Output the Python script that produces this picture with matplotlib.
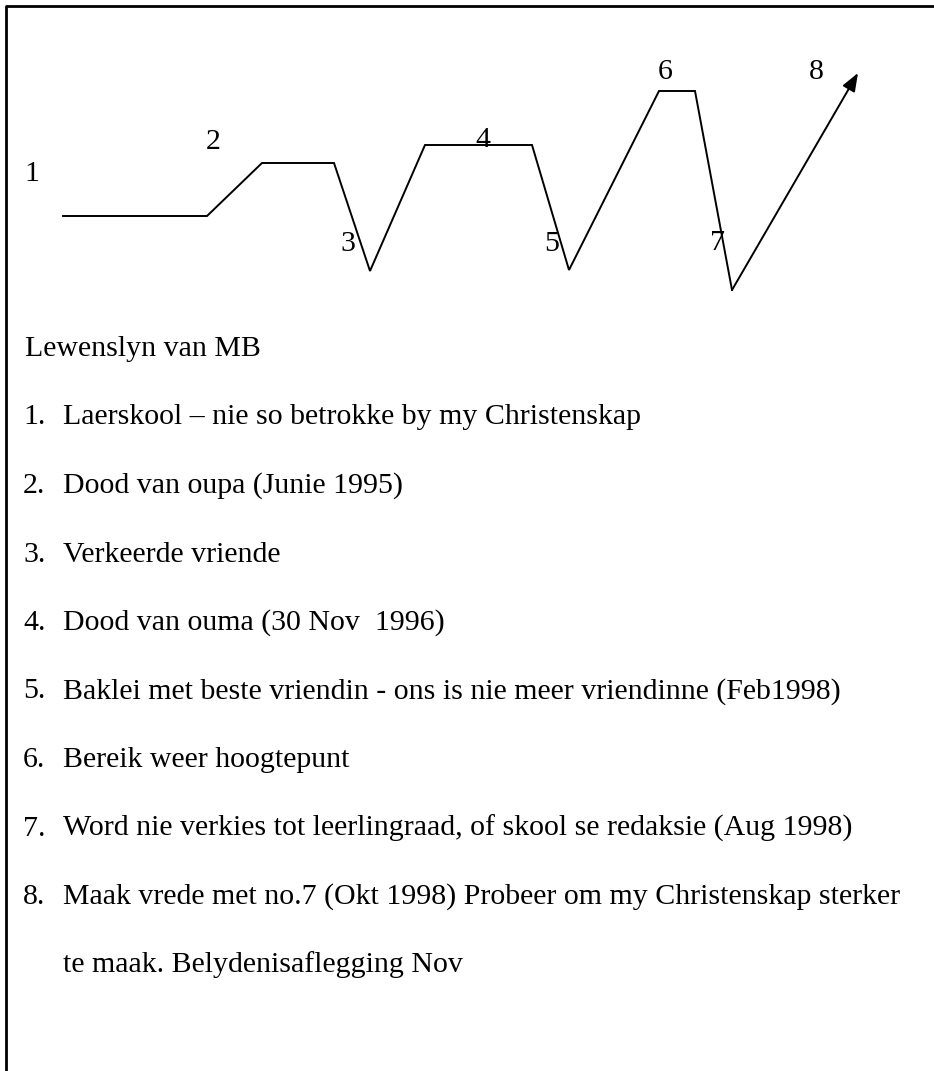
import matplotlib

matplotlib.use("Agg")
import matplotlib.pyplot as plt

W, H = 934, 1071

# life line: x position, level (higher = better)
life_x = [63, 207, 262, 334, 370, 425, 532, 569, 659, 695, 732, 858]
life_y = [84, 84, 137, 137, 29, 155, 155, 30, 209, 209, 10, 227]

# point labels
lab_text = ["1", "2", "3", "4", "5", "6", "7", "8"]
lab_x = [32, 213, 348, 483, 552, 665, 717, 816]
lab_y = [126, 158, 56, 160, 56, 228, 57, 228]

title = "Lewenslyn van MB"
items = [
    "Laerskool \u2013 nie so betrokke by my Christenskap",
    "Dood van oupa (Junie 1995)",
    "Verkeerde vriende",
    "Dood van ouma (30 Nov  1996)",
    "Baklei met beste vriendin - ons is nie meer vriendinne (Feb1998)",
    "Bereik weer hoogtepunt",
    "Word nie verkies tot leerlingraad, of skool se redaksie (Aug 1998)",
    "Maak vrede met no.7 (Okt 1998) Probeer om my Christenskap sterker",
]
item_cont = "te maak. Belydenisaflegging Nov"

SERIF = "Liberation Serif"
FS = 21.5

fig = plt.figure(figsize=(W / 100, H / 100), dpi=100)
fig.patch.set_facecolor("white")

# page frame (only top and left edges show)
page = fig.add_axes([0, 0, 1, 1])
page.set_xlim(0, W)
page.set_ylim(H, 0)
page.axis("off")
page.plot([6, 6, W + 5], [H + 5, 6, 6], color="black", lw=2.0, solid_capstyle="projecting")

# chart area: top 300 px of the page
ax = fig.add_axes([0, (H - 300) / H, 1, 300 / H])
ax.set_xlim(0, W)
ax.set_ylim(0, 300)
ax.axis("off")
ax.patch.set_alpha(0)

ax.plot(life_x[:-1], life_y[:-1], color="black", lw=1.4, solid_joinstyle="miter")
ax.annotate(
    "", xy=(life_x[-1], life_y[-1]), xytext=(life_x[-2], life_y[-2]),
    arrowprops=dict(arrowstyle="-|>,head_length=1.1,head_width=0.42",
                    color="black", lw=1.4, shrinkA=0, shrinkB=0),
)
for t, x, y in zip(lab_text, lab_x, lab_y):
    ax.text(x, y, t, family=SERIF, fontsize=FS, ha="center", va="center")

# legend text below the chart
y0, dy = 356, 68.5
page.text(25, y0, title, family=SERIF, fontsize=FS, ha="left", va="baseline")
for i, s in enumerate(items):
    y = y0 + dy * (i + 1)
    page.text(23, y, f"{i + 1}.", family=SERIF, fontsize=FS, ha="left", va="baseline")
    page.text(63, y, s, family=SERIF, fontsize=FS, ha="left", va="baseline")
page.text(63, y0 + dy * (len(items) + 1), item_cont, family=SERIF, fontsize=FS,
          ha="left", va="baseline")

fig.savefig("out.png", dpi=100, facecolor="white")
